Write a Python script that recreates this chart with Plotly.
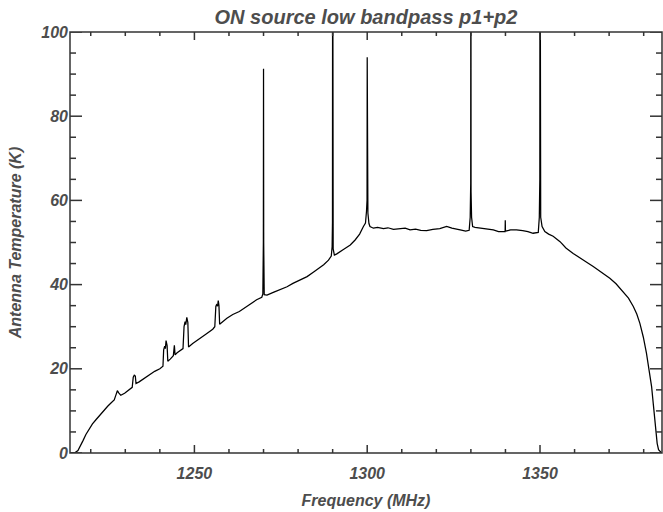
import plotly.graph_objects as go

# Spectrum samples (frequency in MHz, antenna temperature in K)
freq_mhz = [
    1214.0, 1215.5, 1216.3, 1217.0, 1217.8, 1218.6, 1219.6, 1220.5, 1221.5, 1222.5,
    1223.5, 1224.9, 1226.0, 1226.8, 1227.3, 1227.7, 1228.1, 1228.7, 1229.8, 1231.0,
    1232.0, 1232.3, 1232.6, 1232.9, 1233.1, 1234.0, 1235.5, 1237.0, 1238.5, 1240.0,
    1240.9, 1241.1, 1241.4, 1241.6, 1241.8, 1242.1, 1242.3, 1243.0, 1243.9, 1244.2,
    1244.4, 1245.0, 1246.0, 1246.7, 1247.0, 1247.3, 1247.5, 1247.8, 1248.1, 1248.3,
    1249.5, 1251.4, 1253.3, 1255.3, 1255.9, 1256.2, 1256.4, 1256.7, 1256.9, 1257.1,
    1257.3, 1259.4, 1261.1, 1263.0, 1264.6, 1266.2, 1268.0, 1269.5, 1269.8, 1269.95,
    1270.0, 1270.05, 1270.2, 1271.0, 1273.0, 1275.0, 1276.8, 1278.5, 1280.5, 1282.6,
    1284.5, 1286.0, 1287.4, 1288.8, 1289.6, 1289.85, 1289.95, 1290.0, 1290.05, 1290.15,
    1290.5, 1291.2, 1293.0, 1295.1, 1296.5, 1297.8, 1298.9, 1299.5, 1299.8, 1299.95,
    1300.0, 1300.05, 1300.2, 1300.5, 1300.8, 1301.8, 1303.0, 1304.7, 1306.0, 1307.6,
    1309.5, 1311.0, 1312.4, 1314.0, 1315.5, 1317.2, 1319.0, 1321.0, 1323.0, 1324.5,
    1326.9, 1328.5, 1329.5, 1329.8, 1329.95, 1330.0, 1330.05, 1330.2, 1330.5, 1331.2,
    1333.0, 1334.5, 1336.5, 1338.0, 1339.5, 1339.9, 1339.95, 1340.0, 1341.5, 1343.2,
    1345.0, 1346.5, 1348.0, 1349.5, 1349.8, 1349.95, 1350.0, 1350.05, 1350.2, 1350.6,
    1351.4, 1352.5, 1353.8, 1355.8, 1357.5, 1359.6, 1361.5, 1363.5, 1365.4, 1367.5,
    1370.2, 1372.0, 1374.1, 1375.6, 1377.0, 1378.0, 1378.9, 1379.9, 1380.8, 1381.6,
    1382.3, 1382.8, 1383.2, 1383.6, 1383.9, 1384.3, 1384.7, 1385.2,
]
temp_k = [
    0.0, 0.1, 0.6, 1.6, 3.0, 4.4, 5.8, 6.9, 7.9, 8.9,
    9.8, 11.1, 12.0, 12.6, 13.8, 14.8, 14.3, 13.7, 14.2, 14.9,
    15.6, 18.0, 18.5, 18.3, 16.5, 16.9, 17.8, 18.7, 19.4, 20.0,
    20.6, 24.5, 25.4, 24.8, 26.7, 25.5, 21.8, 22.3, 23.1, 25.6,
    23.3, 23.8, 24.5, 24.8, 30.0, 31.2, 30.5, 32.2, 31.0, 25.2,
    26.0, 27.0, 28.2, 29.4, 30.0, 34.8, 35.2, 34.9, 36.2, 35.0,
    30.6, 32.0, 32.9, 33.6, 34.5, 35.6, 36.4, 37.0, 37.8, 50.0,
    91.3, 50.0, 37.6, 37.5, 38.2, 38.9, 39.5, 40.3, 41.0, 41.9,
    43.0, 43.8, 44.7, 45.8, 46.8, 49.0, 55.0, 150.0, 55.0, 48.5,
    47.0, 47.3, 48.3, 49.4, 50.6, 52.0, 53.8, 54.6, 57.5, 60.0,
    94.0, 60.0, 57.0, 54.5, 53.8, 53.4, 53.6, 53.3, 53.5, 53.1,
    53.2, 53.4, 53.0, 53.2, 52.9, 52.8, 53.1, 53.3, 53.8, 53.4,
    53.0, 52.7, 52.9, 56.0, 64.0, 150.0, 62.0, 56.0, 53.8, 53.6,
    53.4, 53.2, 53.0, 52.6, 52.5, 52.6, 55.3, 52.7, 53.0, 53.0,
    52.8, 52.6, 52.2, 52.4, 56.0, 65.0, 150.0, 63.0, 56.0, 53.8,
    52.6, 52.0, 51.5, 50.2, 48.7, 47.4, 46.3, 45.3, 44.3, 43.1,
    41.5, 40.2, 38.3, 36.8, 34.8, 33.0, 30.8, 27.5, 23.7, 19.5,
    15.7, 11.5, 7.8, 4.5, 2.3, 0.8, 0.3, 0.0,
]

x_range = [1214.0, 1385.3]
y_range = [0, 100]
x_major_ticks = [1250, 1300, 1350]
x_minor_ticks = [1220, 1230, 1240, 1260, 1270, 1280, 1290, 1310, 1320, 1330,
                 1340, 1360, 1370, 1380]
y_major_ticks = [0, 20, 40, 60, 80, 100]
y_minor_ticks = [5, 10, 15, 25, 30, 35, 45, 50, 55, 65, 70, 75, 85, 90, 95]

TXT = "#4d4d4d"
AX = "#333333"
FONT = "Liberation Sans"

W, H = 663, 512
ML, MR, MT, MB = 70, 1, 32, 59
PW, PH = W - ML - MR, H - MT - MB   # plot area in px


def bi(size):
    return dict(family=FONT, size=size, color=TXT, weight="bold", style="italic")


fig = go.Figure()
fig.add_trace(go.Scatter(
    x=freq_mhz, y=temp_k, mode="lines",
    line=dict(color="black", width=1.25),
    showlegend=False, hoverinfo="skip",
))

# frame box round the plot area
fig.add_shape(type="rect", xref="paper", yref="paper", x0=0, y0=0, x1=1, y1=1,
              line=dict(color=AX, width=1.5), fillcolor="rgba(0,0,0,0)", layer="above")

# inward ticks on all four sides (positions taken from the tick lists)
tick_line = dict(color=AX, width=1.5)
for vals, length in ((x_major_ticks, 8), (x_minor_ticks, 4)):
    h = length / PH
    for v in vals:
        fig.add_shape(type="line", xref="x", yref="paper", x0=v, x1=v, y0=0, y1=h,
                      line=tick_line, layer="above")
        fig.add_shape(type="line", xref="x", yref="paper", x0=v, x1=v, y0=1, y1=1 - h,
                      line=tick_line, layer="above")
for vals, length in ((y_major_ticks, 12), (y_minor_ticks, 6)):
    w = length / PW
    for v in vals:
        fig.add_shape(type="line", xref="paper", yref="y", x0=0, x1=w, y0=v, y1=v,
                      line=tick_line, layer="above")
        fig.add_shape(type="line", xref="paper", yref="y", x0=1, x1=1 - w, y0=v, y1=v,
                      line=tick_line, layer="above")

fig.update_layout(
    template="none",
    width=W, height=H,
    margin=dict(l=ML, r=MR, t=MT, b=MB, autoexpand=False),
    paper_bgcolor="white", plot_bgcolor="white",
    title=dict(
        text="ON source low bandpass p1+p2", font=bi(20),
        x=0.5, xref="paper", xanchor="center",
        y=1 - 17 / H, yref="container", yanchor="middle",
    ),
    xaxis=dict(
        range=x_range, tickmode="array", tickvals=x_major_ticks,
        ticks="", showline=False, showgrid=False, zeroline=False,
        tickfont=bi(16), ticklabelstandoff=9,
        title=dict(text="Frequency (MHz)", standoff=13, font=bi(16)),
        automargin=False,
    ),
    yaxis=dict(
        range=y_range, tickmode="array", tickvals=y_major_ticks,
        ticks="", showline=False, showgrid=False, zeroline=False,
        tickfont=bi(16), ticklabelstandoff=1,
        title=dict(text="Antenna Temperature (K)", standoff=15, font=bi(16)),
        automargin=False,
    ),
)

fig.write_html(
    "out.html",
    config={"displayModeBar": False},
    post_script="document.body.style.margin='0';document.documentElement.style.overflow='hidden';",
)
